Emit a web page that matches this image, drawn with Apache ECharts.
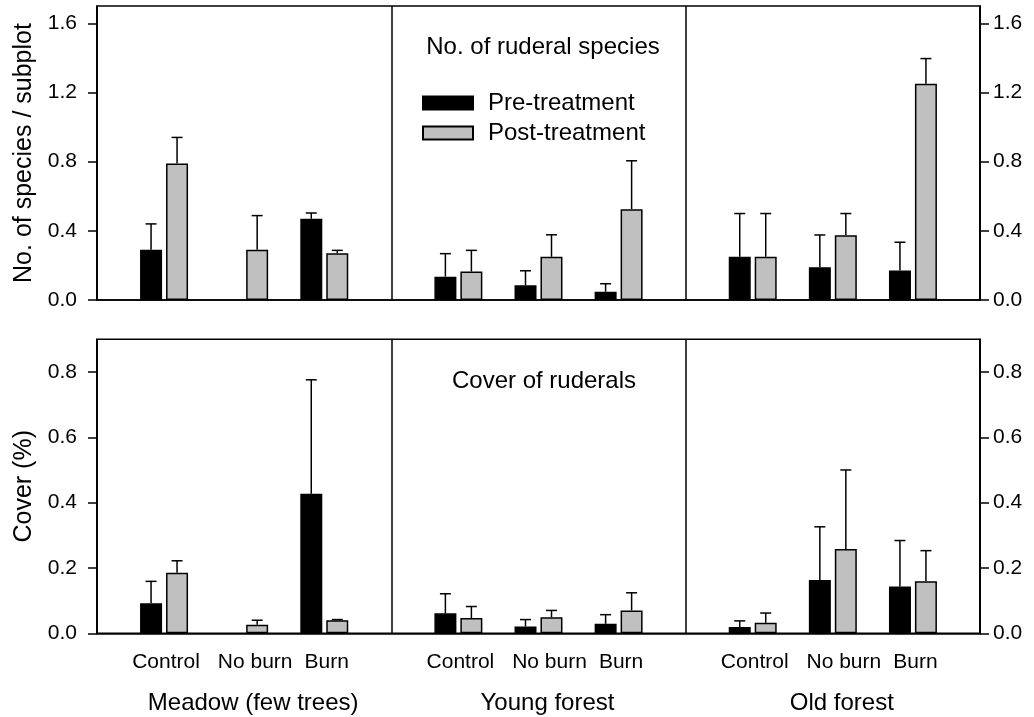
<!DOCTYPE html>
<html>
<head>
<meta charset="utf-8">
<script src="https://cdn.jsdelivr.net/npm/echarts@6/dist/echarts.min.js"></script>
<style>html,body{margin:0;padding:0;background:#fff;}#chart{width:1034px;height:717px;}</style>
</head>
<body>
<div id="chart"></div>
<script>
// ---------- data ----------
const categories = ['Control', 'No burn', 'Burn'];
const sites = ['Meadow (few trees)', 'Young forest', 'Old forest'];
const seriesNames = ['Pre-treatment', 'Post-treatment'];
const panelTitles = ['No. of ruderal species', 'Cover of ruderals'];
const yTitles = ['No. of species / subplot', 'Cover (%)'];
const speciesTicks = [0, 0.4, 0.8, 1.2, 1.6];
const coverTicks = [0, 0.2, 0.4, 0.6, 0.8];
const speciesMax = 1.7;
const coverMax = 0.9;

// rows: site, columns: category
const speciesPre     = [[0.29, null, 0.47], [0.135, 0.085, 0.048], [0.25, 0.19, 0.17]];
const speciesPreErr  = [[0.15, null, 0.033], [0.133, 0.084, 0.046], [0.25, 0.186, 0.164]];
const speciesPost    = [[0.79, 0.29, 0.27], [0.165, 0.25, 0.525], [0.25, 0.375, 1.25]];
const speciesPostErr = [[0.15, 0.198, 0.017], [0.122, 0.127, 0.28], [0.25, 0.125, 0.146]];
const coverPre       = [[0.092, null, 0.427], [0.061, 0.021, 0.029], [0.019, 0.163, 0.143]];
const coverPreErr    = [[0.067, null, 0.349], [0.06, 0.021, 0.028], [0.019, 0.163, 0.141]];
const coverPost      = [[0.185, 0.026, 0.04], [0.047, 0.049, 0.07], [0.032, 0.258, 0.159]];
const coverPostErr   = [[0.037, 0.014, 0.002], [0.035, 0.021, 0.054], [0.03, 0.242, 0.094]];

// ---------- layout / style ----------
const FONT = 'Liberation Sans, Arial, Helvetica, sans-serif';
const plotLeft = 97, plotWidth = 883, rowTops = [6, 339.3], rowHeight = 294;
const sectionW = plotWidth / 3, inset = 27;
const colors = ['#000000', '#c0c0c0'];
const LW = 1.5;
const barOffset = 13;

const rows = [
  {max: speciesMax, ticks: speciesTicks, pre: speciesPre, preErr: speciesPreErr, post: speciesPost, postErr: speciesPostErr},
  {max: coverMax, ticks: coverTicks, pre: coverPre, preErr: coverPreErr, post: coverPost, postErr: coverPostErr}
];

const grid = [], xAxis = [], yAxis = [], series = [];
const labelShift = [4, 22, 5];

rows.forEach((row, r) => {
  const top = rowTops[r];
  // frame grid
  const fg = grid.length;
  grid.push({left: plotLeft, top: top, width: plotWidth, height: rowHeight, show: true,
    borderColor: '#000', borderWidth: LW, backgroundColor: 'transparent'});
  xAxis.push({type: 'value', gridIndex: fg, min: 0, max: 3, interval: 1,
    axisLine: {show: true, lineStyle: {color: '#000', width: LW}},
    axisTick: {show: false}, axisLabel: {show: false},
    splitLine: {show: true, lineStyle: {color: '#000', width: LW}}});
  const fmt = v => v.toFixed(1);
  yAxis.push({type: 'value', gridIndex: fg, position: 'left', min: 0, max: row.max,
    name: yTitles[r], nameLocation: 'middle', nameGap: 60,
    nameTextStyle: {fontFamily: FONT, fontSize: 25, color: '#000'},
    axisLine: {show: true, lineStyle: {color: '#000', width: LW}},
    axisTick: {show: true, length: 9, lineStyle: {color: '#000', width: LW}, customValues: row.ticks},
    axisLabel: {customValues: row.ticks, formatter: fmt, margin: 20, fontFamily: FONT, fontSize: 21, color: '#000'},
    splitLine: {show: false}});
  yAxis.push({type: 'value', gridIndex: fg, position: 'right', min: 0, max: row.max,
    axisLine: {show: true, lineStyle: {color: '#000', width: LW}},
    axisTick: {show: true, length: 9, lineStyle: {color: '#000', width: LW}, customValues: row.ticks},
    axisLabel: {customValues: row.ticks, formatter: fmt, margin: 13, fontFamily: FONT, fontSize: 21, color: '#000'},
    splitLine: {show: false}});

  sites.forEach((site, k) => {
    const g = grid.length;
    grid.push({left: plotLeft + k * sectionW + inset, top: top, width: sectionW - 2 * inset, height: rowHeight});
    const rich = {};
    labelShift.forEach((s, i) => { rich['c' + i] = {fontFamily: FONT, fontSize: 21, color: '#000', padding: [0, 0, 0, s]}; });
    xAxis.push({type: 'category', gridIndex: g, data: categories,
      axisLine: {show: false}, axisTick: {show: false},
      axisLabel: {show: r === 1, margin: 18, interval: 0,
        formatter: (v, i) => '{c' + i + '|' + v + '}', rich: rich,
        fontFamily: FONT, fontSize: 21, color: '#000'},
      name: r === 1 ? site : '', nameLocation: 'middle', nameGap: 58,
      nameTextStyle: {fontFamily: FONT, fontSize: 24, color: '#000', padding: [0, 0, 0, 18]},
      splitLine: {show: false}});
    const y = yAxis.length;
    yAxis.push({type: 'value', gridIndex: g, min: 0, max: row.max, show: false, splitLine: {show: false}});

    const means = [row.pre[k], row.post[k]];
    const errs = [row.preErr[k], row.postErr[k]];
    means.forEach((m, s) => {
      series.push({type: 'bar', name: seriesNames[s], xAxisIndex: g, yAxisIndex: y,
        barWidth: 22, barGap: '18%',
        itemStyle: {color: colors[s], borderColor: '#000', borderWidth: LW},
        emphasis: {disabled: true},
        data: m.map(v => v === null ? '-' : v)});
    });
    means.forEach((m, s) => {
      const d = [];
      m.forEach((v, i) => { if (v !== null) d.push([i, v, v + errs[s][i]]); });
      const off = s === 0 ? -barOffset : barOffset;
      series.push({type: 'custom', name: seriesNames[s] + ' err', xAxisIndex: g, yAxisIndex: y,
        encode: {x: 0, y: [1, 2]}, z: 5, silent: true,
        data: d,
        renderItem: (params, api) => {
          const p0 = api.coord([api.value(0), api.value(1)]);
          const p1 = api.coord([api.value(0), api.value(2)]);
          const x = p0[0] + off;
          const st = {stroke: '#000', lineWidth: LW};
          return {type: 'group', children: [
            {type: 'line', shape: {x1: x, y1: p0[1], x2: x, y2: p1[1]}, style: st},
            {type: 'line', shape: {x1: x - 5.5, y1: p1[1], x2: x + 5.5, y2: p1[1]}, style: st}
          ]};
        }});
    });
  });
});

const option = {
  animation: false,
  backgroundColor: '#fff',
  textStyle: {fontFamily: FONT},
  title: [
    {text: panelTitles[0], left: 538, top: 30, textAlign: 'center',
      textStyle: {fontFamily: FONT, fontSize: 24, fontWeight: 'normal', color: '#000'}},
    {text: panelTitles[1], left: 539, top: 364, textAlign: 'center',
      textStyle: {fontFamily: FONT, fontSize: 24, fontWeight: 'normal', color: '#000'}}
  ],
  legend: {
    data: seriesNames, orient: 'vertical', left: 417, top: 86,
    itemWidth: 50, itemHeight: 13, itemGap: 6, icon: 'rect',
    selectedMode: false,
    textStyle: {fontFamily: FONT, fontSize: 24, color: '#000', padding: [0, 0, 0, 10]}
  },
  grid: grid, xAxis: xAxis, yAxis: yAxis, series: series
};

const chart = echarts.init(document.getElementById('chart'), null, {renderer: 'canvas'});
chart.setOption(option);
</script>
</body>
</html>
